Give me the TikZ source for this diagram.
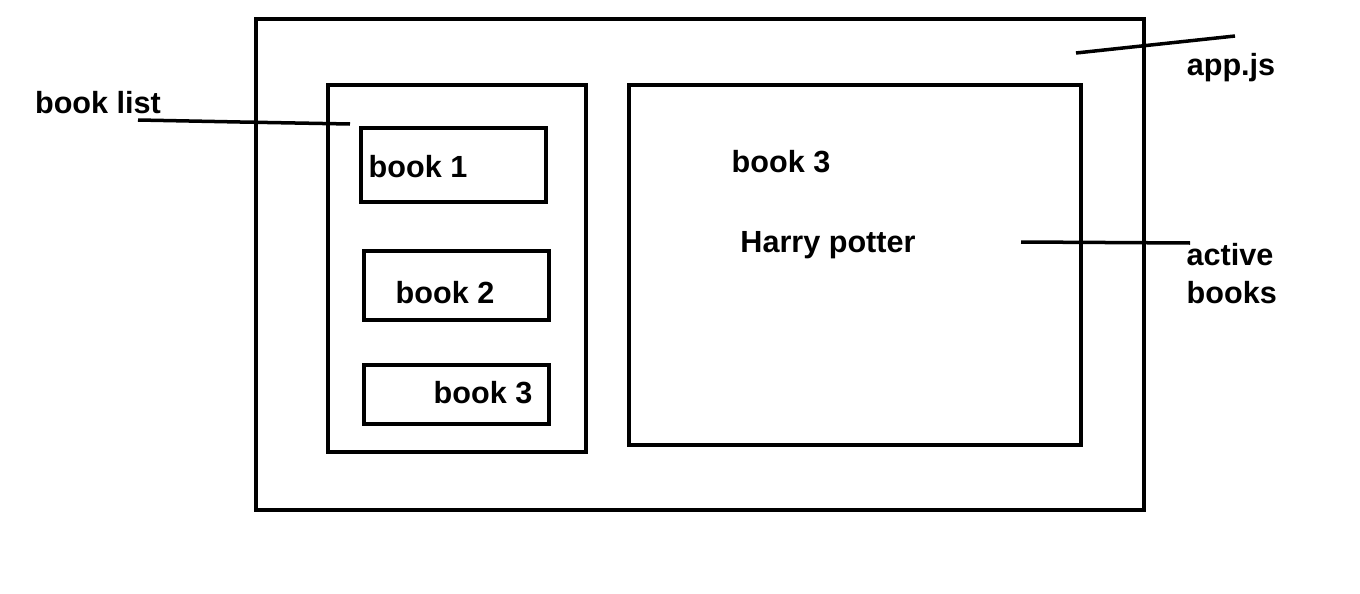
\documentclass[tikz,border=0pt]{standalone}
\usepackage{fontspec}
\setmainfont{Liberation Sans}
\usetikzlibrary{positioning}

\begin{document}
\begin{tikzpicture}[x=0.01cm,y=-0.01cm,
    box/.style={draw,line width=0.04cm,inner sep=0pt},
    lbl/.style={font=\fontsize{8.7}{10.8}\selectfont\bfseries,inner sep=0pt},
    pointer/.style={line width=0.035cm}]
  \useasboundingbox (0,0) rectangle (1360,594);
  % frames
  \node[box,minimum width=8.88cm,minimum height=4.91cm] (app) at (700,264.5) {};
  \node[box,minimum width=2.58cm,minimum height=3.67cm] (list) at (457,268.5) {};
  \node[box,minimum width=4.52cm,minimum height=3.60cm] (active) at (855,265) {};
  \node[box,minimum width=1.85cm,minimum height=0.74cm] (b1) at (453.5,165) {};
  \node[box,minimum width=1.85cm,minimum height=0.69cm] (b2) at (456.5,285.5) {};
  \node[box,minimum width=1.85cm,minimum height=0.59cm] (b3) at (456.5,394.5) {};
  % texts
  \node[lbl] (t1) at (418,167) {book 1};
  \node[lbl] (t2) at (445,293) {book 2};
  \node[lbl] (t3) at (483,393) {book 3};
  \node[lbl] (sel) at (781,162) {book 3};
  \node[lbl] (title) at (828,245) {Harry potter};
  \node[lbl] (listlbl) at (98,103) {book list};
  \node[lbl] (applbl) at (1231,68) {app.js};
  \node[lbl,align=left,anchor=west] (activelbl) at (1186,274) {active\\books};
  % pointers
  \coordinate (p1) at (138,120);
  \coordinate (p2) at (350,124);
  \coordinate (p3) at (1076,53);
  \coordinate (p4) at (1235,36);
  \coordinate (p5) at (1021,242);
  \coordinate (p6) at (1190,243);
  \draw[pointer] (p1) -- (240,122) -- (p2);
  \draw[pointer] (p3) -- (p4);
  \draw[pointer] (p5) -- (p6);
\end{tikzpicture}
\end{document}
